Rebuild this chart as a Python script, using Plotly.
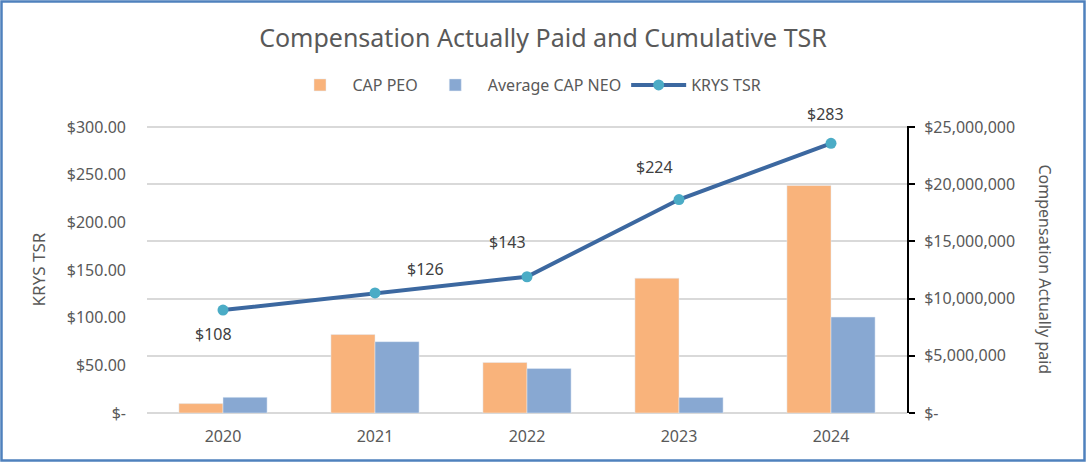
import plotly.graph_objects as go

years = ["2020", "2021", "2022", "2023", "2024"]
cap_peo = [820000, 6860000, 4420000, 11790000, 19900000]
avg_cap_neo = [1370000, 6240000, 3890000, 1360000, 8390000]
krys_tsr = [108, 126, 143, 224, 283]
tsr_labels = ["$108", "$126", "$143", "$224", "$283"]

left_tickvals = [0, 50, 100, 150, 200, 250, 300]
left_ticktext = ["$-", "$50.00", "$100.00", "$150.00", "$200.00", "$250.00", "$300.00"]
right_tickvals = [0, 5000000, 10000000, 15000000, 20000000, 25000000]
right_ticktext = ["$-", "$5,000,000", "$10,000,000", "$15,000,000", "$20,000,000", "$25,000,000"]

FONT = "Noto Sans"
GREY = "#595959"

L, R, T, B = 147, 179, 126, 49
W, H = 1086, 462
pw, ph = W - L - R, H - T - B
EPS = 1.004

fig = go.Figure()
fig.add_trace(go.Bar(x=years, y=cap_peo, name="CAP PEO", marker_color="#F9B37B",
                     yaxis="y", xaxis="x"))
fig.add_trace(go.Bar(x=years, y=avg_cap_neo, name="Average CAP NEO", marker_color="#88A8D2",
                     yaxis="y", xaxis="x"))
fig.add_trace(go.Scatter(x=years, y=krys_tsr, name="KRYS TSR", mode="lines+markers",
                         line=dict(color="#3C68A0", width=4),
                         marker=dict(color="#4BACC6", size=11),
                         yaxis="y2", xaxis="x"))

annotations = []
shifts = [(-10, -24), (50, 24), (-20, 35), (-25, 33), (-6, 29)]
for i, (v, t, (dx, dy)) in enumerate(zip(krys_tsr, tsr_labels, shifts)):
    annotations.append(dict(x=i, y=v, xref="x", yref="y2", text=t, showarrow=False,
                            xshift=dx, yshift=dy,
                            font=dict(family=FONT, size=16, color="#404040")))
annotations.append(dict(x=(1045 - L) / pw, y=0.5, xref="paper", yref="paper",
                        xanchor="center", yanchor="middle",
                        text="Compensation Actually paid", showarrow=False, textangle=90,
                        font=dict(family=FONT, size=16, color=GREY)))

shapes = [dict(type="rect", xref="paper", yref="paper",
               x0=(1.5 - L) / pw, x1=(W - 1.5 - L) / pw,
               y0=-(B - 1.5) / ph, y1=1 + (T - 1.5) / ph,
               line=dict(color="#4F81BD", width=2.5), fillcolor="rgba(0,0,0,0)", layer="above")]

fig.update_layout(
    width=W, height=H,
    margin=dict(l=L, r=R, t=T, b=B),
    paper_bgcolor="white", plot_bgcolor="white",
    annotations=annotations, shapes=shapes,
    title=dict(text="Compensation Actually Paid and Cumulative TSR", x=0.5, xanchor="center",
               y=1 - 38 / H, yanchor="middle",
               font=dict(family=FONT, size=25, color=GREY)),
    legend=dict(orientation="h", x=0.5, xanchor="center", y=1 + 41 / ph, yanchor="middle",
                font=dict(family=FONT, size=16, color=GREY), itemwidth=55),
    barmode="group", bargap=0.42, bargroupgap=0,
    font=dict(family=FONT, color=GREY),
    xaxis=dict(type="category", categoryorder="array", categoryarray=years,
               range=[-0.5, 4.5], showgrid=False, showline=False, ticks="",
               ticklabelstandoff=12,
               tickfont=dict(family=FONT, size=16, color=GREY)),
    yaxis=dict(side="right", range=[0, 25000000 * EPS], tickvals=right_tickvals, ticktext=right_ticktext,
               showgrid=True, gridcolor="#D9D9D9", gridwidth=1.5,
               showline=True, linecolor="black", linewidth=2, ticks="outside", ticklen=6,
               tickcolor="black", tickwidth=2, ticklabelstandoff=6,
               tickfont=dict(family=FONT, size=16, color=GREY),
               zeroline=True, zerolinecolor="#D9D9D9", zerolinewidth=1.5),
    yaxis2=dict(side="left", overlaying="y", range=[0, 300 * EPS], tickvals=left_tickvals,
                ticktext=left_ticktext, showgrid=False, zeroline=False, showline=False,
                ticks="", ticklabelstandoff=20,
                tickfont=dict(family=FONT, size=16, color=GREY),
                title=dict(text="KRYS TSR", font=dict(family=FONT, size=17, color=GREY), standoff=16)),
)

fig.write_html("out.html", config={"displayModeBar": False},
               post_script="document.body.style.margin='0px';document.body.style.overflow='hidden';")
